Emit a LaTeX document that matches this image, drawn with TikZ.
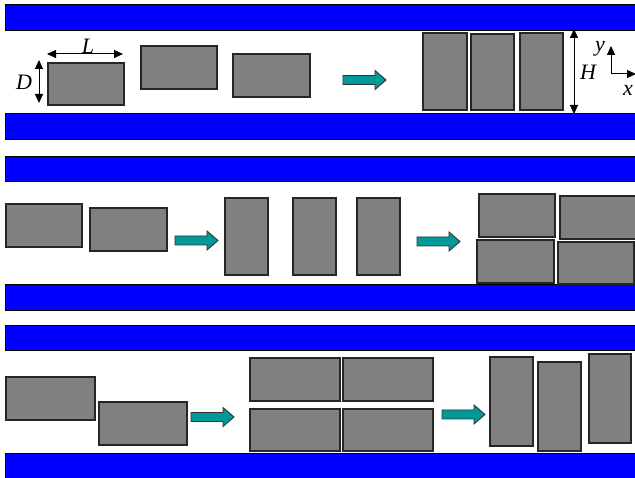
\documentclass[tikz,border=0pt]{standalone}
\usepackage{fontspec}
\setmainfont{Liberation Serif}
\usetikzlibrary{arrows.meta}
\definecolor{barblue}{RGB}{0,0,255}
\definecolor{boxgray}{RGB}{128,128,128}
\definecolor{teal2}{RGB}{0,153,153}
\tikzset{
  bar/.style={fill=barblue,draw=black,line width=0.8pt},
  block/.style={fill=boxgray,draw=black!85,line width=1.1pt},
  dimline/.style={line width=1pt,{Triangle[length=9pt,width=8pt]}-{Triangle[length=9pt,width=8pt]}},
  axisline/.style={line width=1pt,-{Triangle[length=9pt,width=8pt]}},
  lab/.style={font=\fontsize{22}{22}\selectfont\itshape,inner sep=0pt},
  fatarrow/.pic={\draw[fill=teal2,draw=black!80,line width=0.9pt]
     (0,-4.5) -- (32,-4.5) -- (32,-9.5) -- (43,0) -- (32,9.5) -- (32,4.5) -- (0,4.5) -- cycle;}
}
\begin{document}
\begin{tikzpicture}[x=1pt,y=-1pt]
\useasboundingbox (0,0) rectangle (635,478);
% bars
\foreach \a/\b in {4/30,113/139,156/181,284/310,325/350,453/478}
  \draw[bar] (5,\a) rectangle (640,\b);
% panel 1
\draw[block] (48,63) rectangle (124,105);
\draw[block] (141,46) rectangle (217,89);
\draw[block] (233,54) rectangle (310,97);
\draw[block] (423,33) rectangle (467,110);
\draw[block] (471,34) rectangle (514,110);
\draw[block] (520,33) rectangle (563,110);
\pic at (343,80) {fatarrow};
\coordinate (La) at (47,54); \coordinate (Lb) at (123,54);
\draw[dimline] (La) -- (Lb);
\node[lab] (L) at (88,46) {L};
\coordinate (Da) at (39,60); \coordinate (Db) at (39,103);
\draw[dimline] (Da) -- (Db);
\node[lab] (D) at (24,82) {D};
\coordinate (Ha) at (574,29); \coordinate (Hb) at (574,114);
\draw[dimline] (Ha) -- (Hb);
\node[lab] (H) at (588,72) {H};
\coordinate (O) at (611,74); \coordinate (Y) at (611,46); \coordinate (X) at (636,74);
\draw[axisline] (O) -- (Y);
\draw[axisline] (O) -- (X);
\node[lab] (ylab) at (600,49) {y};
\node[lab] (xlab) at (628,90) {x};
% panel 2
\draw[block] (6,204) rectangle (82,247);
\draw[block] (90,208) rectangle (167,251);
\pic at (175,240.5) {fatarrow};
\draw[block] (225,198) rectangle (268,275);
\draw[block] (293,198) rectangle (336,275);
\draw[block] (357,198) rectangle (400,275);
\pic at (417,241.5) {fatarrow};
\draw[block] (479,194) rectangle (555,237);
\draw[block] (560,196) rectangle (637,239);
\draw[block] (477,240) rectangle (554,283);
\draw[block] (558,242) rectangle (634,284);
% panel 3
\draw[block] (6,377) rectangle (95,420);
\draw[block] (99,402) rectangle (187,445);
\pic at (191,417) {fatarrow};
\draw[block] (250,358) rectangle (340,401);
\draw[block] (343,358) rectangle (433,401);
\draw[block] (250,409) rectangle (340,451);
\draw[block] (343,409) rectangle (433,451);
\pic at (442,414.5) {fatarrow};
\draw[block] (490,357) rectangle (533,446);
\draw[block] (538,362) rectangle (581,451);
\draw[block] (589,354) rectangle (631,443);
\end{tikzpicture}
\end{document}
